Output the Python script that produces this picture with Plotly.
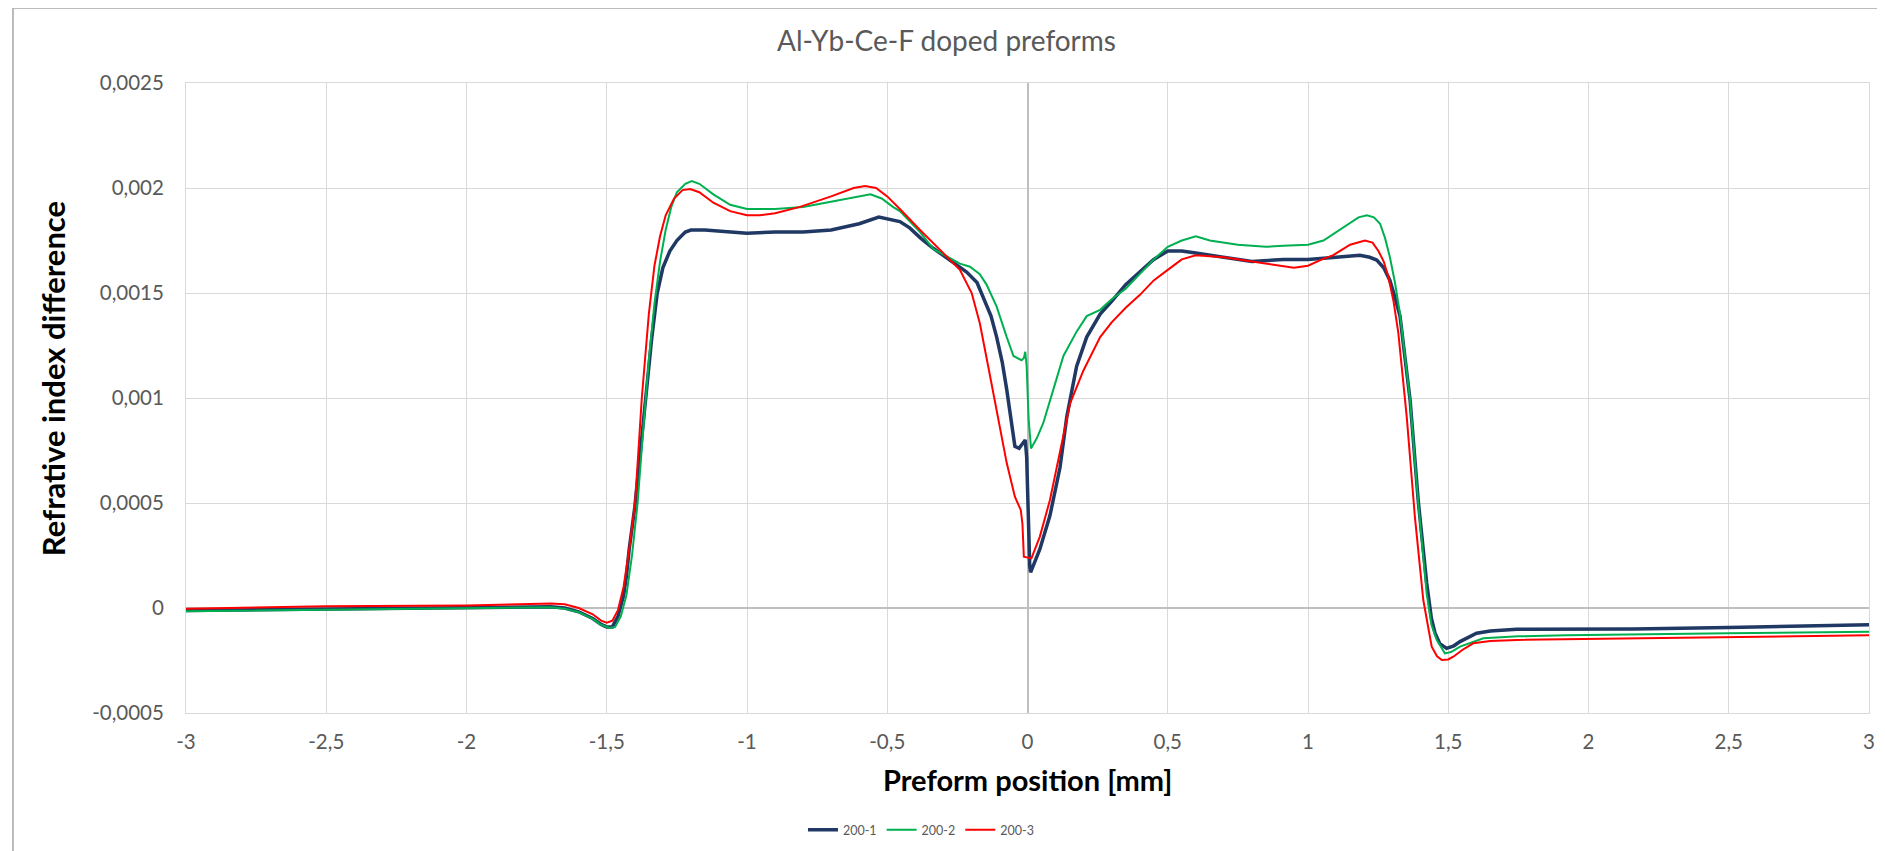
import plotly.graph_objects as go

# ---------------- DATA ----------------
x_200_1 = [-3.0, -2.5, -2.0, -1.8, -1.7, -1.65, -1.6, -1.55, -1.52, -1.5, -1.48, -1.46, -1.44, -1.43, -1.42,
           -1.40, -1.38, -1.36, -1.34, -1.32, -1.30, -1.275, -1.25, -1.22, -1.2, -1.15, -1.1, -1.0, -0.9, -0.8,
           -0.7, -0.6, -0.53, -0.48, -0.455, -0.42, -0.38, -0.336, -0.28, -0.217, -0.18, -0.158, -0.13, -0.11,
           -0.09, -0.074, -0.055, -0.045, -0.03, -0.015, -0.008, -0.003, 0.003, 0.008, 0.011, 0.02, 0.044, 0.08,
           0.116, 0.14, 0.175, 0.211, 0.259, 0.3, 0.35, 0.4, 0.45, 0.5, 0.55, 0.6, 0.7, 0.8, 0.912, 1.0, 1.1,
           1.185, 1.22, 1.245, 1.27, 1.292, 1.31, 1.328, 1.345, 1.364, 1.393, 1.423, 1.44, 1.453, 1.47, 1.494,
           1.52, 1.542, 1.601, 1.65, 1.744, 2.0, 2.16, 2.5, 2.754, 3.0]
y_200_1 = [-0.000012, -0.000005, 0.000003, 0.000007, 0.000006, 0.0, -0.000018, -0.00005, -0.000078, -0.00009,
           -0.00009, -0.00004, 0.00006, 0.00015, 0.00028, 0.00048, 0.00075, 0.00102, 0.00128, 0.0015, 0.00162,
           0.0017, 0.00175, 0.00179, 0.0018, 0.0018, 0.001795, 0.001785, 0.00179, 0.00179, 0.0018, 0.00183,
           0.001862, 0.00185, 0.00184, 0.00181, 0.00176, 0.001713, 0.00166, 0.0016, 0.00155, 0.00148, 0.00139,
           0.00129, 0.00117, 0.00104, 0.00086, 0.00077, 0.00076, 0.00079, 0.0008, 0.00072, 0.0004, 0.0002,
           0.00017, 0.0002, 0.00028, 0.00044, 0.00067, 0.00091, 0.00115, 0.00129, 0.0014, 0.00146, 0.00154,
           0.0016, 0.00166, 0.0017, 0.0017, 0.00169, 0.00167, 0.00165, 0.00166, 0.00166, 0.00167, 0.00168,
           0.00167, 0.001657, 0.00162, 0.00156, 0.00148, 0.00139, 0.0012, 0.00099, 0.00051, 0.00012, -0.00005,
           -0.00012, -0.00017, -0.000192, -0.00018, -0.00016, -0.00012, -0.00011, -0.000101, -0.0001, -0.0001,
           -0.000093, -0.000085, -0.00008]

x_200_2 = [-3.0, -2.5, -2.0, -1.8, -1.7, -1.65, -1.6, -1.55, -1.52, -1.49, -1.47, -1.45, -1.43, -1.41, -1.39,
           -1.37, -1.35, -1.33, -1.31, -1.29, -1.27, -1.25, -1.22, -1.197, -1.17, -1.12, -1.06, -1.0, -0.954,
           -0.9, -0.8, -0.68, -0.6, -0.56, -0.52, -0.48, -0.455, -0.42, -0.383, -0.336, -0.28, -0.241, -0.205,
           -0.17, -0.146, -0.11, -0.074, -0.05, -0.021, -0.013, -0.008, -0.003, 0.004, 0.0125, 0.033, 0.056,
           0.092, 0.128, 0.175, 0.211, 0.259, 0.3, 0.35, 0.4, 0.45, 0.5, 0.55, 0.6, 0.65, 0.75, 0.85, 0.912,
           1.0, 1.055, 1.1, 1.138, 1.18, 1.21, 1.235, 1.257, 1.275, 1.292, 1.31, 1.328, 1.345, 1.364, 1.393,
           1.423, 1.44, 1.459, 1.488, 1.51, 1.542, 1.625, 1.75, 1.922, 2.5, 3.0]
y_200_2 = [-0.000015, -0.000008, 0.0, 0.000004, 0.000003, -0.000003, -0.00002, -0.000052, -0.00008, -0.000095,
           -0.00009, -0.00004, 0.00006, 0.00025, 0.0005, 0.00085, 0.00118, 0.00145, 0.00165, 0.0018, 0.00191,
           0.00198, 0.00202, 0.002033, 0.00202, 0.00197, 0.00192, 0.0019, 0.0019, 0.0019, 0.00191, 0.00194,
           0.00196, 0.00197, 0.00195, 0.00191, 0.00189, 0.00184, 0.00179, 0.00171, 0.00167, 0.00164, 0.001625,
           0.00159, 0.00154, 0.001435, 0.00129, 0.0012, 0.00118, 0.00119, 0.00122, 0.00115, 0.0009, 0.00076,
           0.000808, 0.00088, 0.00104, 0.0012, 0.001316, 0.00139, 0.00142, 0.00147, 0.00152, 0.00159, 0.00166,
           0.00172, 0.00175, 0.00177, 0.00175, 0.00173, 0.00172, 0.001725, 0.00173, 0.00175, 0.00179, 0.001824,
           0.00186, 0.00187, 0.00186, 0.00183, 0.00176, 0.00167, 0.00155, 0.0014, 0.0012, 0.00099, 0.0005,
           0.00007, -0.00008, -0.000152, -0.000216, -0.00021, -0.000184, -0.000144, -0.000135, -0.00013,
           -0.00012, -0.000113]

x_200_3 = [-3.0, -2.5, -2.0, -1.8, -1.7, -1.65, -1.6, -1.55, -1.52, -1.5, -1.48, -1.46, -1.44, -1.42, -1.399,
           -1.375, -1.35, -1.33, -1.31, -1.29, -1.26, -1.23, -1.203, -1.17, -1.12, -1.06, -1.0, -0.954, -0.9,
           -0.811, -0.7, -0.62, -0.579, -0.54, -0.5, -0.455, -0.383, -0.3, -0.241, -0.199, -0.17, -0.14, -0.11,
           -0.074, -0.045, -0.024, -0.018, -0.013, 0.014, 0.044, 0.08, 0.116, 0.152, 0.199, 0.259, 0.3, 0.35,
           0.4, 0.45, 0.5, 0.55, 0.6, 0.7, 0.8, 0.9, 0.95, 1.0, 1.05, 1.09, 1.15, 1.203, 1.23, 1.251, 1.27,
           1.286, 1.305, 1.322, 1.352, 1.381, 1.411, 1.441, 1.46, 1.477, 1.5, 1.518, 1.55, 1.589, 1.65, 1.744,
           2.16, 2.5, 3.0]
y_200_3 = [-0.000003, 0.000008, 0.000012, 0.000018, 0.000022, 0.000018, 0.0, -0.00003, -0.00006, -0.00007,
           -0.00006, -0.00001, 0.0001, 0.00028, 0.0005, 0.001, 0.0014, 0.00163, 0.00177, 0.00187, 0.00195,
           0.00199, 0.001995, 0.00198, 0.00193, 0.00189, 0.00187, 0.00187, 0.00188, 0.00191, 0.00196, 0.002,
           0.00201, 0.002, 0.00196, 0.0019, 0.0018, 0.00169, 0.00161, 0.0015, 0.001356, 0.00115, 0.00094,
           0.00069, 0.00053, 0.000467, 0.0004, 0.000244, 0.000236, 0.00034, 0.000514, 0.000737, 0.000975,
           0.00113, 0.00129, 0.00136, 0.00143, 0.00149, 0.00156, 0.00161, 0.00166, 0.00168, 0.00167, 0.00165,
           0.00163, 0.00162, 0.00163, 0.00166, 0.00168, 0.00173, 0.00175, 0.00174, 0.0017, 0.00165, 0.00158,
           0.00146, 0.00131, 0.00091, 0.000435, 0.000038, -0.000184, -0.00023, -0.000248, -0.000245, -0.000232,
           -0.0002, -0.000168, -0.000157, -0.000152, -0.000145, -0.000138, -0.00013]

series_names = ["200-1", "200-2", "200-3"]

x_tick_vals = [-3, -2.5, -2, -1.5, -1, -0.5, 0, 0.5, 1, 1.5, 2, 2.5, 3]
x_tick_text = ["-3", "-2,5", "-2", "-1,5", "-1", "-0,5", "0", "0,5", "1", "1,5", "2", "2,5", "3"]
y_tick_vals = [-0.0005, 0, 0.0005, 0.001, 0.0015, 0.002, 0.0025]
y_tick_text = ["-0,0005", "0", "0,0005", "0,001", "0,0015", "0,002", "0,0025"]

title_text = "Al-Yb-Ce-F doped preforms"
x_title = "Preform position [mm]"
y_title = "Refrative index difference"

# ---------------- FIGURE ----------------
FONT = "Lato, 'Open Sans', sans-serif"
colors = ["#1F3864", "#00B050", "#FF0000"]
widths = [3.5, 2, 2]

fig = go.Figure()
for xs, ys, name, c, w in zip([x_200_1, x_200_2, x_200_3], [y_200_1, y_200_2, y_200_3],
                              series_names, colors, widths):
    fig.add_trace(go.Scatter(x=xs, y=ys, name=name, mode="lines",
                             line=dict(color=c, width=w)))

# the page body adds an 8px offset, so the figure is 8px smaller and margins shifted
fig.update_layout(
    width=1877, height=843,
    margin=dict(l=178, r=16, t=75, b=138, autoexpand=False),
    paper_bgcolor="white", plot_bgcolor="white",
    font=dict(family=FONT, color="#595959", size=20),
    showlegend=True,
    legend=dict(orientation="h", x=0.4367, xanchor="center", y=-0.186, yanchor="middle",
                font=dict(size=12.5, color="#595959"), itemwidth=30, tracegroupgap=0),
    annotations=[
        dict(text=title_text, x=0.4516, y=1.068, xref="paper", yref="paper", showarrow=False,
             xanchor="center", yanchor="middle", font=dict(size=28, color="#595959", family=FONT)),
        dict(text="<b>" + x_title + "</b>", x=0.5, y=-0.1063, xref="paper", yref="paper",
             showarrow=False, xanchor="center", yanchor="middle",
             font=dict(size=29, color="#000000", family=FONT)),
        dict(text="<b>" + y_title + "</b>", x=-0.079, y=0.53, xref="paper", yref="paper",
             showarrow=False, xanchor="center", yanchor="middle", textangle=-90,
             font=dict(size=31, color="#000000", family=FONT)),
    ],
    shapes=[
        dict(type="rect", xref="paper", yref="paper", x0=-0.1028, x1=1.013, y0=-0.24, y1=1.119,
             line=dict(color="#A6A6A6", width=1.5), fillcolor="rgba(0,0,0,0)", layer="below"),
    ],
)

fig.update_xaxes(range=[-3, 3], tickvals=x_tick_vals, ticktext=x_tick_text, automargin=False,
                 showgrid=True, gridcolor="#D9D9D9", gridwidth=1,
                 zeroline=True, zerolinecolor="#BFBFBF", zerolinewidth=1.5,
                 showline=True, linecolor="#D9D9D9", mirror=True,
                 ticks="", ticklabelstandoff=10,
                 tickfont=dict(size=20.5, color="#595959", family=FONT))
fig.update_yaxes(range=[-0.0005, 0.0025], tickvals=y_tick_vals, ticktext=y_tick_text, automargin=False,
                 showgrid=True, gridcolor="#D9D9D9", gridwidth=1,
                 zeroline=True, zerolinecolor="#BFBFBF", zerolinewidth=1.5,
                 showline=True, linecolor="#D9D9D9", mirror=True,
                 ticks="", ticklabelstandoff=17,
                 tickfont=dict(size=20.5, color="#595959", family=FONT))

fig.write_html("out.html")
